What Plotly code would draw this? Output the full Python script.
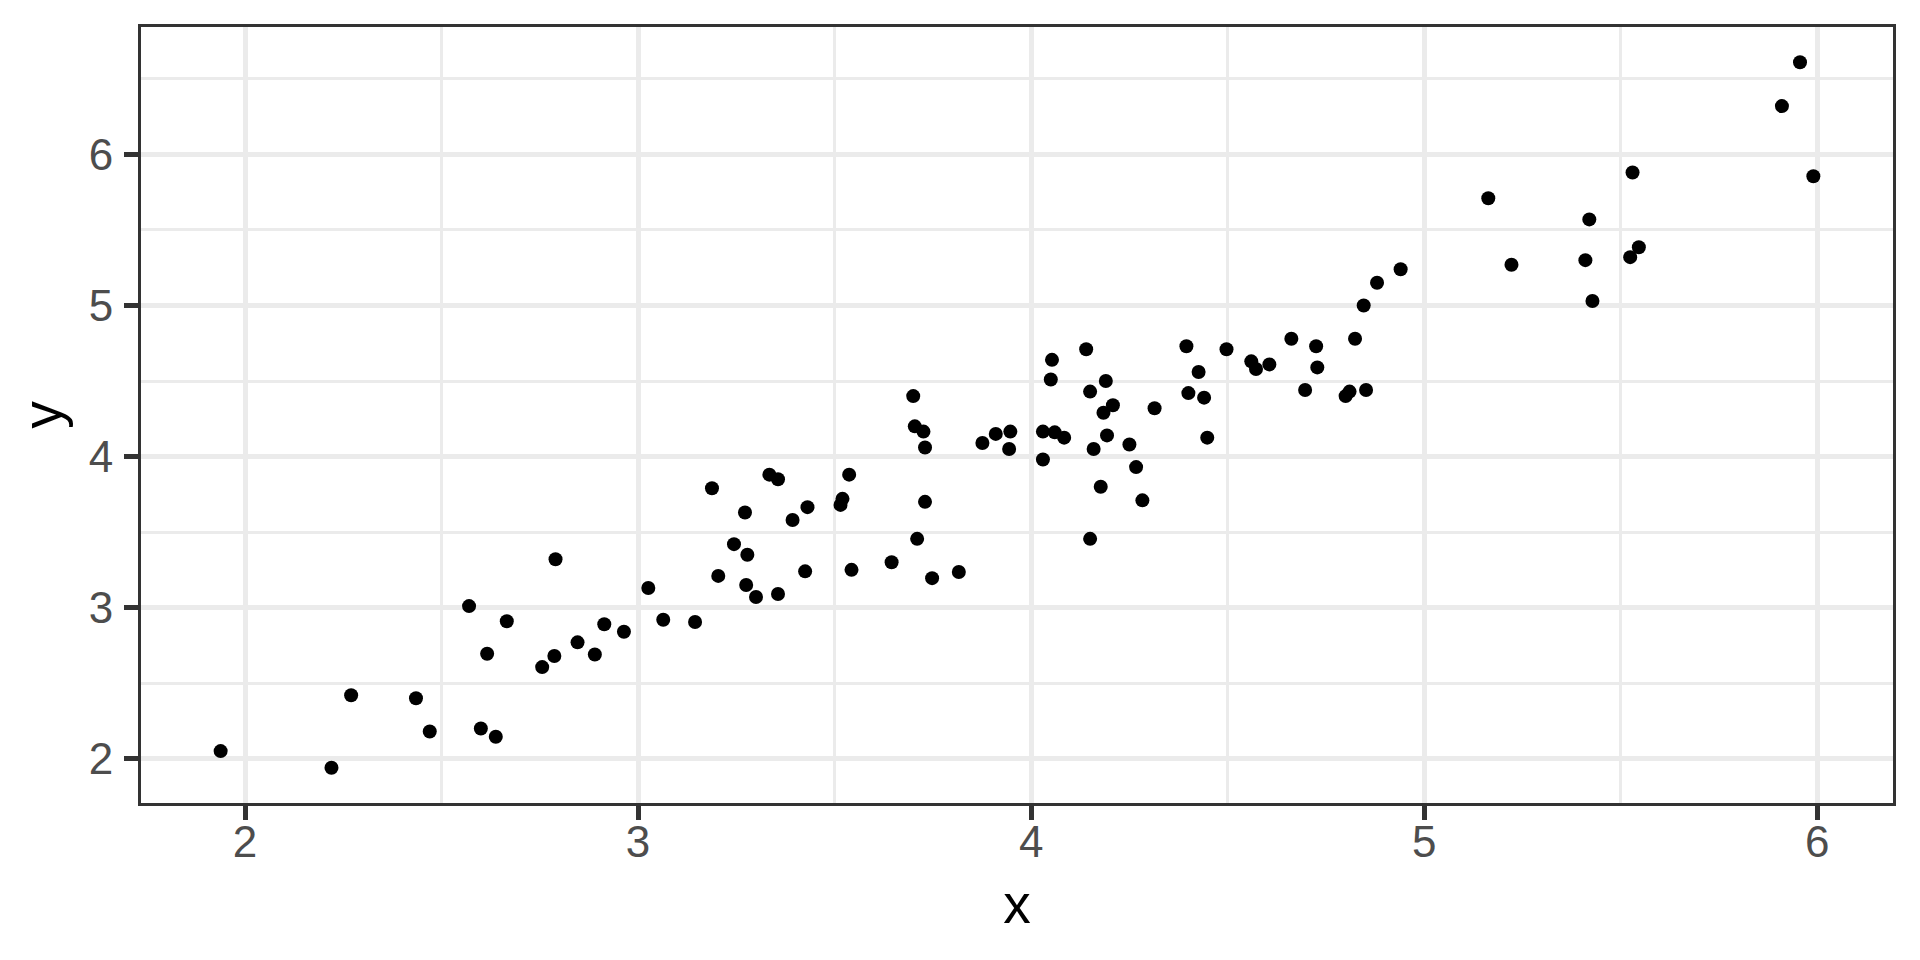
import plotly.graph_objects as go

x_vals = [1.938, 2.22, 2.27, 2.435, 2.47, 2.57, 2.60, 2.616, 2.638, 2.666,
          2.756, 2.787, 2.79, 2.846, 2.89, 2.914, 2.964, 3.026, 3.064, 3.145,
          3.188, 3.204, 3.244, 3.272, 3.278, 3.275, 3.30, 3.334, 3.356, 3.356,
          3.393, 3.425, 3.431, 3.515, 3.52, 3.537, 3.543, 3.645, 3.70, 3.704,
          3.71, 3.726, 3.73, 3.73, 3.748, 3.816, 3.876, 3.91, 3.944, 3.947,
          4.03, 4.03, 4.053, 4.05, 4.06, 4.084, 4.14, 4.15, 4.15, 4.159,
          4.177, 4.184, 4.19, 4.193, 4.208, 4.25, 4.267, 4.283, 4.314, 4.395,
          4.40, 4.426, 4.44, 4.448, 4.497, 4.56, 4.572, 4.606, 4.662, 4.697,
          4.725, 4.728, 4.80, 4.81, 4.824, 4.852, 4.846, 4.88, 4.94, 5.163,
          5.222, 5.41, 5.42, 5.428, 5.524, 5.53, 5.546, 5.91, 5.956, 5.99]

y_vals = [2.05, 1.94, 2.42, 2.40, 2.18, 3.01, 2.20, 2.695, 2.145, 2.91,
          2.606, 2.68, 3.32, 2.77, 2.69, 2.89, 2.84, 3.13, 2.92, 2.905,
          3.79, 3.21, 3.42, 3.63, 3.35, 3.15, 3.07, 3.88, 3.85, 3.09,
          3.58, 3.24, 3.665, 3.68, 3.72, 3.88, 3.25, 3.30, 4.40, 4.20,
          3.455, 4.165, 4.06, 3.70, 3.195, 3.236, 4.09, 4.15, 4.05, 4.165,
          3.98, 4.165, 4.64, 4.51, 4.16, 4.125, 4.71, 4.43, 3.455, 4.05,
          3.80, 4.29, 4.50, 4.14, 4.34, 4.08, 3.93, 3.71, 4.32, 4.73,
          4.42, 4.56, 4.39, 4.125, 4.71, 4.63, 4.58, 4.61, 4.78, 4.44,
          4.73, 4.59, 4.40, 4.43, 4.78, 4.44, 5.00, 5.15, 5.24, 5.71,
          5.27, 5.30, 5.57, 5.03, 5.32, 5.88, 5.385, 6.32, 6.61, 5.855]

x_ticks = [2, 3, 4, 5, 6]
y_ticks = [2, 3, 4, 5, 6]


def expand(vals, frac=0.05):
    lo, hi = min(vals), max(vals)
    pad = (hi - lo) * frac
    return [lo - pad, hi + pad]


FONT = "Liberation Sans, Arial, Helvetica, sans-serif"

fig = go.Figure()
fig.add_trace(go.Scatter(
    x=x_vals, y=y_vals, mode="markers",
    marker=dict(color="black", size=14, line=dict(width=0)),
    showlegend=False,
))

axis_common = dict(
    showgrid=True, gridcolor="#EBEBEB", gridwidth=5,
    zeroline=False,
    showline=True, linecolor="#333333", linewidth=3, mirror=True,
    ticks="outside", ticklen=14, tickwidth=5, tickcolor="#333333",
    tickfont=dict(family=FONT, size=44, color="#4D4D4D"),
)

fig.update_xaxes(
    range=expand(x_vals), tickvals=x_ticks, ticktext=[str(v) for v in x_ticks],
    minor=dict(dtick=0.5, tick0=0, showgrid=True, gridcolor="#EBEBEB", gridwidth=2.5, ticks=""),
    title=dict(text="x", font=dict(family=FONT, size=55, color="black"), standoff=20),
    ticklabelstandoff=-16,
    **axis_common,
)
fig.update_yaxes(
    range=expand(y_vals), tickvals=y_ticks, ticktext=[str(v) for v in y_ticks],
    minor=dict(dtick=0.5, tick0=0, showgrid=True, gridcolor="#EBEBEB", gridwidth=2.5, ticks=""),
    title=dict(text="y", font=dict(family=FONT, size=55, color="black"), standoff=10),
    ticklabelstandoff=2,
    **axis_common,
)

fig.update_layout(
    width=1912, height=952,
    margin=dict(l=133, r=27, t=19, b=157),
    paper_bgcolor="white", plot_bgcolor="white",
    font=dict(family=FONT),
)

fig.write_html("out.html")
